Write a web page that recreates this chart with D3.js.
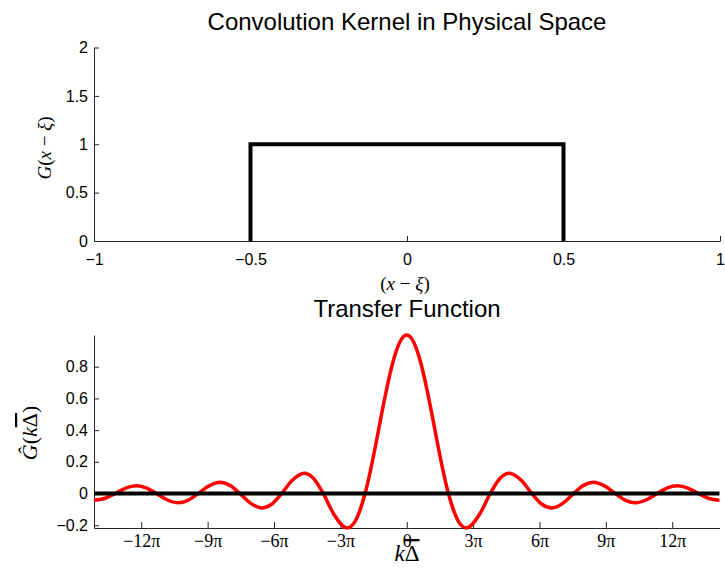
<!DOCTYPE html>
<html>
<head>
<meta charset="utf-8">
<script src="https://cdnjs.cloudflare.com/ajax/libs/d3/7.8.5/d3.min.js"></script>
<style>
body { margin: 0; background: #fff; }
svg { display: block; font-family: "Liberation Sans", Arial, sans-serif; }
</style>
</head>
<body>
<svg width="725" height="568"></svg>
<script>
// box kernel, physical space
const kernelX = [-0.5, -0.5, 0.5, 0.5]
const kernelY = [0, 1, 1, 0]
const topXTicks = [-1, -0.5, 0, 0.5, 1]
const topYTicks = [0, 0.5, 1, 1.5, 2]

// transfer function
const transferK = [-47.12, -45.55, -43.98, -42.41, -40.74, -39.27, -37.70, -36.13, -34.44, -32.99,
    -31.42, -29.85, -28.13, -26.70, -25.13, -23.56, -21.81, -20.42, -18.85, -17.28,
    -15.45, -14.14, -12.57, -11.00, -8.99, -7.85, -7.07, -6.28, -5.50, -4.71,
    -3.93, -3.14, -2.36, -1.57, -0.79, 0,
    0.79, 1.57, 2.36, 3.14, 3.93, 4.71, 5.50, 6.28, 7.07, 7.85, 8.99,
    11.00, 12.57, 14.14, 15.45, 17.28, 18.85, 20.42, 21.81, 23.56, 25.13,
    26.70, 28.13, 29.85, 31.42, 32.99, 34.44, 36.13, 37.70, 39.27, 40.74,
    42.41, 43.98, 45.55, 47.12]
const transferG = [-0.042, -0.031, 0.000, 0.033, 0.049, 0.036, 0.000, -0.039, -0.058, -0.043,
    0.000, 0.047, 0.071, 0.053, 0.000, -0.060, -0.091, -0.069, 0.000, 0.082,
    0.128, 0.100, 0.000, -0.129, -0.217, -0.180, -0.108, 0.000, 0.139, 0.300,
    0.471, 0.637, 0.784, 0.900, 0.974, 1.000,
    0.974, 0.900, 0.784, 0.637, 0.471, 0.300, 0.139, 0.000, -0.108, -0.180, -0.217,
    -0.129, 0.000, 0.100, 0.128, 0.082, 0.000, -0.069, -0.091, -0.060, 0.000,
    0.053, 0.071, 0.047, 0.000, -0.043, -0.058, -0.039, 0.000, 0.036, 0.049,
    0.033, 0.000, -0.031, -0.042]
const botXTicks = [-40, -30, -20, -10, 0, 10, 20, 30, 40]
const botXLabels = ["\u221212\u03c0", "\u22129\u03c0", "\u22126\u03c0", "\u22123\u03c0", "0", "3\u03c0", "6\u03c0", "9\u03c0", "12\u03c0"]
const botYTicks = [-0.2, 0, 0.2, 0.4, 0.6, 0.8]

let svg = d3.select("svg")
const axisColor = "#262626"
const serif = "'Liberation Serif', 'DejaVu Serif', serif"
const fmt = d3.format("")

let styleAxis = (g, size, font) => {
    g.select(".domain").attr("stroke", axisColor)
    g.selectAll(".tick line").attr("stroke", axisColor)
    g.selectAll(".tick text").attr("fill", "#000").attr("font-size", size)
    if (font) g.selectAll(".tick text").attr("font-family", font)
}

// ---- top panel ----
const xTop = d3.scaleLinear().domain([-1, 1]).range([94, 720])
const yTop = d3.scaleLinear().domain([0, 2]).range([241, 47.5])

svg.append("g")
    .attr("transform", "translate(0," + yTop(0) + ")")
    .call(d3.axisBottom(xTop).tickValues(topXTicks).tickFormat(fmt).tickSizeInner(-5).tickSizeOuter(0).tickPadding(13))
    .call(g => styleAxis(g, "16px"))

svg.append("g")
    .attr("transform", "translate(" + xTop(-1) + ",0)")
    .call(d3.axisLeft(yTop).tickValues(topYTicks).tickFormat(fmt).tickSizeInner(-5).tickSizeOuter(0).tickPadding(6))
    .call(g => styleAxis(g, "16px"))

let kernel = kernelX.map((x, i) => [x, kernelY[i]])
svg.append("path")
    .datum(kernel)
    .attr("fill", "none")
    .attr("stroke", "#000")
    .attr("stroke-width", 4)
    .attr("stroke-linejoin", "miter")
    .attr("d", d3.line().x(d => xTop(d[0])).y(d => yTop(d[1])))

svg.append("text")
    .attr("x", 407).attr("y", 30)
    .attr("text-anchor", "middle")
    .attr("font-size", "24px")
    .text("Convolution Kernel in Physical Space")

let xl = svg.append("text")
    .attr("x", 405).attr("y", 290)
    .attr("text-anchor", "middle")
    .attr("font-family", serif)
    .attr("font-size", "19px")
xl.append("tspan").text("(")
xl.append("tspan").attr("font-style", "italic").text("x")
xl.append("tspan").text(" \u2212 ")
xl.append("tspan").attr("font-style", "italic").text("\u03be")
xl.append("tspan").text(")")

let yl = svg.append("text")
    .attr("transform", "translate(51,148) rotate(-90)")
    .attr("text-anchor", "middle")
    .attr("font-family", serif)
    .attr("font-size", "19px")
yl.append("tspan").attr("font-style", "italic").text("G")
yl.append("tspan").text("(")
yl.append("tspan").attr("font-style", "italic").text("x")
yl.append("tspan").text(" \u2212 ")
yl.append("tspan").attr("font-style", "italic").text("\u03be")
yl.append("tspan").text(")")

// ---- bottom panel ----
const xBot = d3.scaleLinear().domain([-47.12, 47.12]).range([94, 719.5])
const yBot = d3.scaleLinear().domain([-0.2172, 1]).range([528, 335])

svg.append("g")
    .attr("transform", "translate(0," + yBot(-0.2172) + ")")
    .call(d3.axisBottom(xBot).tickValues(botXTicks).tickFormat((d, i) => botXLabels[i])
        .tickSizeInner(-6).tickSizeOuter(0).tickPadding(6))
    .call(g => styleAxis(g, "18px", serif))

svg.append("g")
    .attr("transform", "translate(" + xBot(-47.12) + ",0)")
    .call(d3.axisLeft(yBot).tickValues(botYTicks).tickFormat(fmt).tickSizeInner(-5).tickSizeOuter(0).tickPadding(6))
    .call(g => styleAxis(g, "16px"))

let transfer = transferK.map((k, i) => [k, transferG[i]])
svg.append("path")
    .datum(transfer)
    .attr("fill", "none")
    .attr("stroke", "#ff0000")
    .attr("stroke-width", 3.5)
    .attr("d", d3.line().curve(d3.curveMonotoneX).x(d => xBot(d[0])).y(d => yBot(d[1])))

svg.append("line")
    .attr("x1", xBot(-47.12)).attr("x2", xBot(47.12))
    .attr("y1", yBot(0)).attr("y2", yBot(0))
    .attr("stroke", "#000")
    .attr("stroke-width", 4)

svg.append("text")
    .attr("x", 407).attr("y", 317)
    .attr("text-anchor", "middle")
    .attr("font-size", "24px")
    .text("Transfer Function")

let kl = svg.append("text")
    .attr("x", 407).attr("y", 561)
    .attr("text-anchor", "middle")
    .attr("font-family", serif)
    .attr("font-size", "23px")
kl.append("tspan").attr("font-style", "italic").text("k")
kl.append("tspan").style("text-decoration", "overline").text("\u0394")

let gl = svg.append("text")
    .attr("transform", "translate(37,433) rotate(-90)")
    .attr("text-anchor", "middle")
    .attr("font-family", serif)
    .attr("font-size", "22px")
gl.append("tspan").attr("font-style", "italic").text("\u011c")
gl.append("tspan").text("(")
gl.append("tspan").attr("font-style", "italic").text("k")
gl.append("tspan").style("text-decoration", "overline").text("\u0394")
gl.append("tspan").text(")")
</script>
</body>
</html>
